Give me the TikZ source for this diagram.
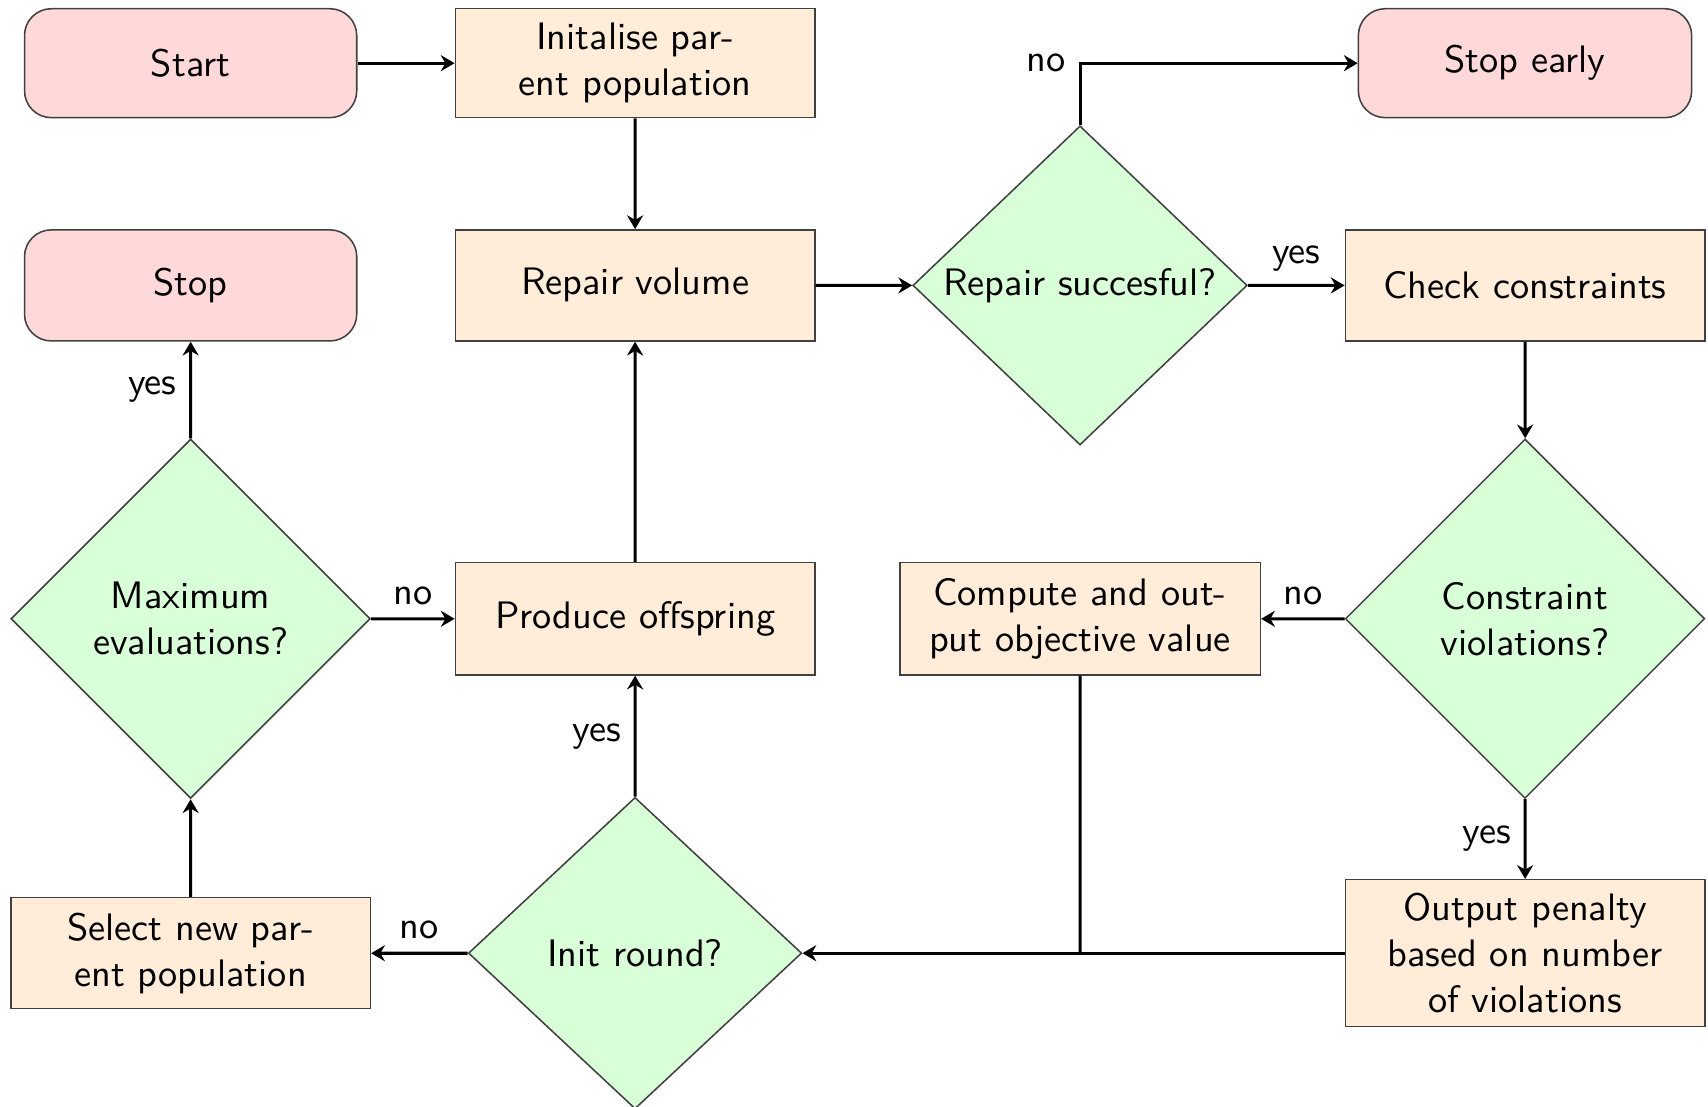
\documentclass[tikz,border=0pt]{standalone}
\usepackage{amsmath}
\usepackage{tikz}
\usetikzlibrary{shapes.geometric,arrows.meta}

\tikzstyle{terminal}=[draw=black!75, fill=red!15, rounded corners=7pt, minimum width=3.05cm, minimum height=1cm, align=center]
\tikzstyle{process}=[draw=black!75, fill=orange!15, minimum width=3.3cm, minimum height=1.02cm, align=center]
\tikzstyle{decision}=[draw=black!75, fill=green!15, diamond, inner sep=0pt, minimum width=3.3cm, minimum height=3.3cm, align=center]
\tikzstyle{arrow}=[thick, -{Stealth[length=3.6pt,width=4.2pt,inset=1.2pt]}]
\tikzstyle{line}=[thick]

\begin{document}
\begin{tikzpicture}[scale=0.1, font=\sffamily]
\useasboundingbox (0,0) rectangle (156.8,-101.6);
\node [terminal] (start) at (17.5,-5.8) {Start};
\node [process, minimum height=1cm] (init) at (58.3,-5.8) {Initalise par-\\ent population};
\node [terminal, minimum width=3.06cm] (stopearly) at (140,-5.8) {Stop early};
\node [terminal, minimum height=1.02cm] (stop) at (17.5,-26.2) {Stop};
\node [process] (repair) at (58.3,-26.2) {Repair volume};
\node [decision, minimum width=3.07cm, minimum height=2.93cm] (repairok) at (99.15,-26.2) {Repair succesful?};
\node [process] (check) at (140,-26.2) {Check constraints};
\node [decision] (maxeval) at (17.5,-56.8) {Maximum\\evaluations?};
\node [process, minimum height=1.03cm] (produce) at (58.3,-56.8) {Produce offspring};
\node [process, minimum width=3.31cm, minimum height=1.03cm] (compute) at (99.15,-56.8) {Compute and out-\\put objective value};
\node [decision] (violations) at (140,-56.8) {Constraint\\violations?};
\node [process] (select) at (17.5,-87.5) {Select new par-\\ent population};
\node [decision, minimum width=3.06cm, minimum height=2.86cm] (initround) at (58.3,-87.5) {Init round?};
\node [process, minimum height=1.35cm] (penalty) at (140,-87.5) {Output penalty\\based on number\\of violations};
\coordinate (join) at (compute.south |- initround.east);
\draw [arrow] (start) -- (init);
\draw [arrow] (init) -- (repair);
\draw [arrow] (repair) -- (repairok);
\draw [arrow] (repairok.north) |- node [left] {no} (stopearly.west);
\draw [arrow] (repairok) -- node [above] {yes} (check);
\draw [arrow] (check) -- (violations);
\draw [arrow] (violations) -- node [above] {no} (compute);
\draw [arrow] (violations) -- node [left] {yes} (penalty);
\draw [line] (compute) -- (join);
\draw [arrow] (penalty.west) -- (initround.east);
\draw [arrow] (initround) -- node [left] {yes} (produce);
\draw [arrow] (initround) -- node [above] {no} (select);
\draw [arrow] (produce) -- (repair);
\draw [arrow] (select) -- (maxeval);
\draw [arrow] (maxeval) -- node [above] {no} (produce);
\draw [arrow] (maxeval) -- node [left] {yes} (stop);
\end{tikzpicture}
\end{document}
